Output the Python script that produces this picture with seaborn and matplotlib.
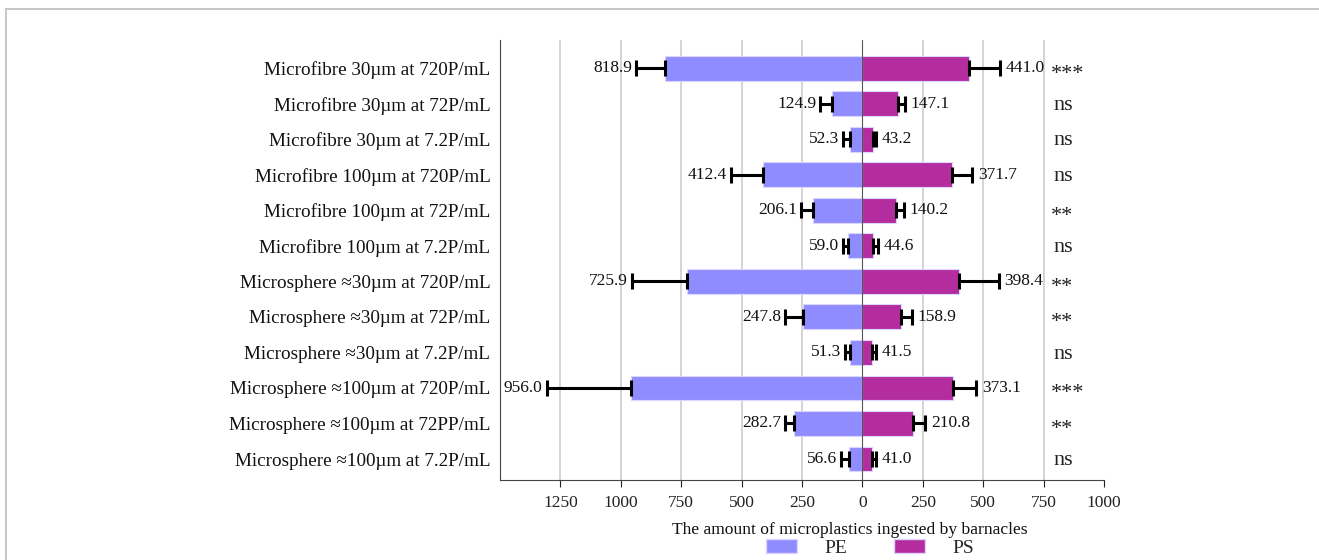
import numpy as np
import pandas as pd
import matplotlib
matplotlib.use("Agg")
import matplotlib.pyplot as plt
import seaborn as sns
from matplotlib.lines import Line2D
from matplotlib.patches import Patch
from matplotlib.ticker import FuncFormatter
import matplotlib.transforms as mtransforms

#####################################
# data
#####################################
categories = [
    "Microfibre 30\u00b5m at 720P/mL",
    "Microfibre 30\u00b5m at 72P/mL",
    "Microfibre 30\u00b5m at 7.2P/mL",
    "Microfibre 100\u00b5m at 720P/mL",
    "Microfibre 100\u00b5m at 72P/mL",
    "Microfibre 100\u00b5m at 7.2P/mL",
    "Microsphere \u224830\u00b5m at 720P/mL",
    "Microsphere \u224830\u00b5m at 72P/mL",
    "Microsphere \u224830\u00b5m at 7.2P/mL",
    "Microsphere \u2248100\u00b5m at 720P/mL",
    "Microsphere \u2248100\u00b5m at 72PP/mL",
    "Microsphere \u2248100\u00b5m at 7.2P/mL",
]
pe_values = [818.9, 124.9, 52.3, 412.4, 206.1, 59.0, 725.9, 247.8, 51.3, 956.0, 282.7, 56.6]
ps_values = [441.0, 147.1, 43.2, 371.7, 140.2, 44.6, 398.4, 158.9, 41.5, 373.1, 210.8, 41.0]
pe_errors = [118, 49, 26, 133, 46, 22, 228, 71, 20, 351, 37, 33]
ps_errors = [130, 30, 12, 84, 31, 22, 165, 45, 16, 99, 50, 17]
significance = ["***", "ns", "ns", "ns", "**", "ns", "**", "**", "ns", "***", "**", "ns"]
x_ticks = [-1250, -1000, -750, -500, -250, 0, 250, 500, 750, 1000]

PE_COLOR = "#8F8CFF"
PS_COLOR = "#B42D9F"

sns.set_theme(style="white")
plt.rcParams['font.family'] = ['Liberation Serif', 'DejaVu Serif']

df = pd.DataFrame({
    "category": categories * 2,
    "value": [-v for v in pe_values] + ps_values,
    "polymer": ["PE"] * len(categories) + ["PS"] * len(categories),
})

fig = plt.figure(figsize=(13.19, 5.6), dpi=100)
ax = fig.add_axes([500 / 1319, 1 - 480 / 560, 604 / 1319, 440 / 560])

# gridlines behind the bars
for t in x_ticks[:-1]:
    if t != 0:
        ax.axvline(t, color="#d4d4d4", lw=1.4, zorder=0)

sns.barplot(data=df, y="category", x="value", hue="polymer",
            palette={"PE": PE_COLOR, "PS": PS_COLOR}, dodge=False,
            orient="h", errorbar=None, width=0.7, ax=ax, saturation=1,
            linewidth=0.8, edgecolor="#dcd6ff", legend=False, zorder=2)

ax.axvline(0, color="#555555", lw=0.8, zorder=3)

y = np.arange(len(categories))
pe = np.array(pe_values)
ps = np.array(ps_values)
pe_e = np.array(pe_errors)
ps_e = np.array(ps_errors)

# one-sided error bars
ax.errorbar(-pe, y, xerr=[pe_e, np.zeros_like(pe_e)], fmt="none", ecolor="black",
            elinewidth=2.2, capsize=5.5, capthick=2.2, zorder=4)
ax.errorbar(ps, y, xerr=[np.zeros_like(ps_e), ps_e], fmt="none", ecolor="black",
            elinewidth=2.2, capsize=5.5, capthick=2.2, zorder=4)

# value labels just beyond the caps
off_l = mtransforms.offset_copy(ax.transData, fig=fig, x=-3, y=0, units="points")
off_r = mtransforms.offset_copy(ax.transData, fig=fig, x=4, y=0, units="points")
for i in range(len(categories)):
    ax.text(-(pe[i] + pe_e[i]), y[i], f"{pe[i]:.1f}", transform=off_l,
            ha="right", va="center", fontsize=12.5, color="#111111")
    ax.text(ps[i] + ps_e[i], y[i], f"{ps[i]:.1f}", transform=off_r,
            ha="left", va="center", fontsize=12.5, color="#111111")
    if significance[i] == "ns":
        ax.text(790, y[i] + 0.05, significance[i], ha="left", va="center",
                fontsize=16, color="#222222", clip_on=False)
    else:
        ax.text(780, y[i] + 0.17, significance[i], ha="left", va="center",
                fontsize=16, color="#222222", clip_on=False)

ax.set_xlim(-1500, 1000)
ax.set_ylim(len(categories) - 0.41, -0.79)
ax.set_xticks(x_ticks)
ax.xaxis.set_major_formatter(FuncFormatter(lambda v, p: f"{abs(int(v))}"))
ax.tick_params(axis="x", labelsize=12.5, length=5, width=0.8, direction="out",
               bottom=True, colors="#222222", pad=6)
ax.tick_params(axis="y", labelsize=13.8, length=0, pad=7, labelcolor="#111111")
ax.set_ylabel("")
ax.set_xlabel("The amount of microplastics ingested by barnacles", fontsize=12.6,
              color="#111111")
ax.xaxis.set_label_coords(350 / 604, -42 / 440)

for side in ["top", "right"]:
    ax.spines[side].set_visible(False)
ax.spines["left"].set_color("#444444")
ax.spines["left"].set_linewidth(0.8)
ax.spines["bottom"].set_color("#444444")
ax.spines["bottom"].set_linewidth(0.8)

handles = [Patch(facecolor=PE_COLOR, edgecolor="#dcd6ff", label="PE"),
           Patch(facecolor=PS_COLOR, edgecolor="#dcd6ff", label="PS")]
fig.legend(handles=handles, loc="center", bbox_to_anchor=(870 / 1319, 1 - 548 / 560),
           ncol=2, frameon=False, fontsize=14, handlelength=1.6, handleheight=0.7,
           columnspacing=2.4, handletextpad=1.4, borderpad=0.1)

# frame around the figure (top and left edges visible)
fig.add_artist(Line2D([6 / 1319, 1.0], [1 - 9 / 560, 1 - 9 / 560], color="#bdbdbd", lw=1.2))
fig.add_artist(Line2D([6 / 1319, 6 / 1319], [0.0, 1 - 9 / 560], color="#bdbdbd", lw=1.2))

fig.savefig("out.png", dpi=100)
